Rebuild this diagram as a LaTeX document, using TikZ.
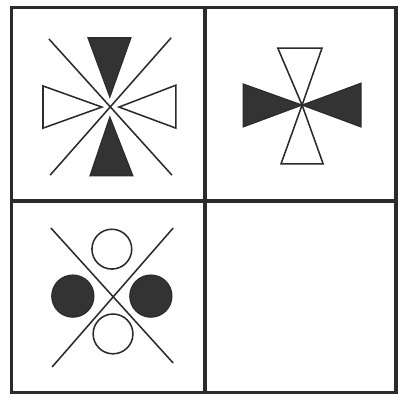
\documentclass[tikz,border=0pt]{standalone}
\usepackage{tikz}
\usetikzlibrary{calc}
\definecolor{inkDark}{HTML}{2B2B2B}
\definecolor{inkFill}{HTML}{333333}

\begin{document}
\begin{tikzpicture}[
  grid/.style={draw=inkDark, line width=2.3pt},
  stroke/.style={draw=inkDark, line width=1.1pt},
  solid/.style={fill=inkFill, draw=inkDark, line width=0.8pt, line join=miter},
  hollow/.style={fill=white, draw=inkDark, line width=1.1pt, line join=miter}
]

  \useasboundingbox (0,0) rectangle (10,10);
  \fill[white] (0,0) rectangle (10,10);

  % frame of the four cells
  \draw[grid] (0.28,0.13) rectangle (9.95,9.82);
  \draw[grid] (5.15,0.13) -- (5.15,9.82);
  \draw[grid] (0.28,4.95) -- (9.95,4.95);

  % cell 1
  \draw[stroke] (1.23,9.02) -- (4.32,5.60);
  \draw[stroke] (4.30,9.05) -- (1.26,5.60);
  \filldraw[solid] (2.21,9.05) -- (3.29,9.05) -- (2.76,7.56) -- cycle;
  \filldraw[solid] (2.26,5.58) -- (3.34,5.58) -- (2.76,7.06) -- cycle;
  \filldraw[hollow] (1.08,7.84) -- (1.08,6.78) -- (2.56,7.31) -- cycle;
  \filldraw[hollow] (4.42,7.86) -- (4.42,6.78) -- (2.99,7.31) -- cycle;

  % cell 2
  \coordinate (hub) at (7.59,7.36);
  \filldraw[hollow] (6.98,8.79) -- (8.09,8.79) -- (hub) -- cycle;
  \filldraw[hollow] (7.06,5.88) -- (8.12,5.88) -- (hub) -- cycle;
  \filldraw[solid] (6.11,7.89) -- (6.11,6.81) -- (hub) -- cycle;
  \filldraw[solid] (9.07,7.91) -- (9.07,6.81) -- (hub) -- cycle;

  % cell 3
  \draw[stroke] (1.28,4.27) -- (4.35,0.88);
  \draw[stroke] (4.35,4.27) -- (1.31,0.78);
  \draw[hollow] (2.81,3.74) circle (0.50);
  \draw[hollow] (2.84,1.61) circle (0.50);
  \filldraw[solid] (1.83,2.56) circle (0.53);
  \filldraw[solid] (3.79,2.56) circle (0.53);

\end{tikzpicture}
\end{document}
